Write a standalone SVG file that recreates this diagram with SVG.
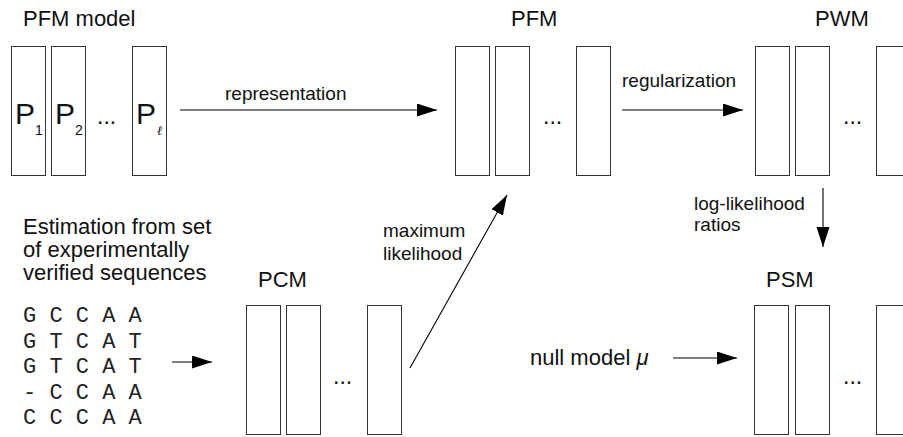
<svg xmlns="http://www.w3.org/2000/svg" width="903" height="437" viewBox="0 0 903 437">
<style>
.bg{fill:#fff}
.box{fill:#fff;stroke:#333;stroke-width:1}
.t{font-family:"Liberation Sans",Arial,sans-serif;fill:#111}
.title{font-size:22px}
.lbl{font-size:19px}
.dots{font-size:23px}
.big{font-size:30px}
.sub{font-size:14px}
.seq{font-family:"Liberation Mono","Courier New",monospace;font-size:22px;fill:#222}
.conn{stroke:#000;stroke-width:1.1;fill:none;marker-end:url(#ah)}
</style>
<defs>
<marker id="ah" markerUnits="userSpaceOnUse" markerWidth="20" markerHeight="14" refX="20" refY="6.5" orient="auto">
<path d="M0,0 L20,6.5 L0,13 z" fill="#000"/>
</marker>
</defs>
<rect class="bg" x="0" y="0" width="903" height="437"/>

<g id="pfm-model">
<text class="t title" x="23" y="26">PFM model</text>
<rect class="box" x="11.5" y="46.5" width="34" height="129"/>
<rect class="box" x="51.5" y="46.5" width="34" height="129"/>
<rect class="box" x="132.5" y="46.5" width="34" height="129"/>
<text class="t big" x="15" y="124">P</text>
<text class="t sub" x="35" y="135">1</text>
<text class="t big" x="55" y="124">P</text>
<text class="t sub" x="75" y="135">2</text>
<text class="t dots" x="97" y="124">...</text>
<text class="t big" x="136" y="124">P</text>
<text x="157" y="135" font-size="13" font-style="italic" font-family="'DejaVu Serif','Liberation Serif',serif" fill="#111">ℓ</text>
</g>

<g id="pfm">
<text class="t title" x="511" y="26">PFM</text>
<rect class="box" x="455.5" y="46.5" width="34" height="129"/>
<rect class="box" x="495.5" y="46.5" width="34" height="129"/>
<rect class="box" x="576.5" y="46.5" width="34" height="129"/>
<text class="t dots" x="543" y="124">...</text>
</g>

<g id="pwm">
<text class="t title" x="815" y="26">PWM</text>
<rect class="box" x="755.5" y="46.5" width="34" height="129"/>
<rect class="box" x="795.5" y="46.5" width="34" height="129"/>
<rect class="box" x="876.5" y="46.5" width="34" height="129"/>
<text class="t dots" x="843" y="124">...</text>
</g>

<g id="estimation">
<text class="t title" x="23" y="234">Estimation from set</text>
<text class="t title" x="23" y="257">of experimentally</text>
<text class="t title" x="23" y="280">verified sequences</text>
<text class="seq" x="23" y="322" xml:space="preserve">G C C A A</text>
<text class="seq" x="23" y="347.5" xml:space="preserve">G T C A T</text>
<text class="seq" x="23" y="373" xml:space="preserve">G T C A T</text>
<text class="seq" x="23" y="398.5" xml:space="preserve">- C C A A</text>
<text class="seq" x="23" y="424" xml:space="preserve">C C C A A</text>
</g>

<g id="pcm">
<text class="t title" x="258" y="287">PCM</text>
<rect class="box" x="246.5" y="305.5" width="34" height="129"/>
<rect class="box" x="286.5" y="305.5" width="34" height="129"/>
<rect class="box" x="367.5" y="305.5" width="34" height="129"/>
<text class="t dots" x="333" y="384">...</text>
</g>

<g id="psm">
<text class="t title" x="766" y="287">PSM</text>
<rect class="box" x="754.5" y="305.5" width="34" height="129"/>
<rect class="box" x="795.5" y="305.5" width="34" height="129"/>
<rect class="box" x="876.5" y="305.5" width="34" height="129"/>
<text class="t dots" x="843" y="384">...</text>
</g>

<g id="null-model">
<text class="t title" x="530" y="365">null model <tspan font-style="italic">μ</tspan></text>
</g>

<g id="connectors">
<line class="conn" x1="180" y1="110" x2="437" y2="110"/>
<text class="t lbl" x="225" y="100">representation</text>
<line class="conn" x1="622" y1="110" x2="743" y2="110"/>
<text class="t lbl" x="622" y="87">regularization</text>
<line class="conn" x1="823" y1="188" x2="823" y2="247"/>
<text class="t lbl" x="694" y="210">log-likelihood</text>
<text class="t lbl" x="694" y="231">ratios</text>
<line class="conn" x1="172" y1="362" x2="212" y2="362"/>
<line class="conn" x1="410" y1="368" x2="507" y2="195"/>
<text class="t lbl" x="383" y="237">maximum</text>
<text class="t lbl" x="383" y="260">likelihood</text>
<line class="conn" x1="673" y1="358" x2="737" y2="358"/>
</g>
</svg>
